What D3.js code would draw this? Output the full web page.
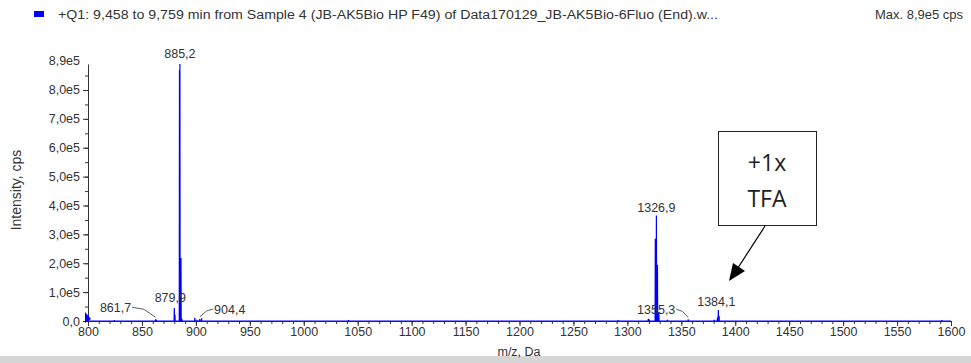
<!DOCTYPE html>
<html><head><meta charset="utf-8">
<script src="https://cdn.jsdelivr.net/npm/d3@7"></script>
<style>
body{margin:0;background:#fff;}
svg text{font-family:"Liberation Sans",Arial,sans-serif;}
</style></head>
<body><svg id="c" width="971" height="363"></svg>
<script>
// ---- data ----
const peakMz  = [824.5, 862.6, 863.4, 880.0, 880.6, 884.8, 885.2, 886.2, 887.0, 899.0, 901.0, 903.6, 905.3, 1041.5, 1291.5, 1319.4, 1320.4, 1325.9, 1326.9, 1327.9, 1329.2, 1337.0, 1356.4, 1380.5, 1383.5, 1384.3, 1385.0, 1591.5];
const peakInt = [3000, 6000, 3500, 45000, 22000, 868000, 890000, 218000, 8000, 11000, 4000, 7000, 9000, 3000, 3000, 8000, 5000, 285000, 365000, 195000, 30000, 4000, 6000, 4000, 12000, 38000, 18000, 3000];
const labelMz = [885.2, 879.9, 861.7, 904.4, 1326.9, 1355.3, 1384.1];
const xTicks = d3.range(800, 1601, 50);
const yTicks = d3.range(0, 800001, 100000);
const yMaxLabel = 890000;
const titleText = "+Q1: 9,458 to 9,759 min from Sample 4 (JB-AK5Bio HP F49) of Data170129_JB-AK5Bio-6Fluo (End).w...";
const maxText = "Max. 8,9e5 cps";
const annotationLines = ["+1x", "TFA"];

// ---- chart ----
const svg = d3.select("#c");
const x = d3.scaleLinear().domain([800, 1600]).range([88, 951]);
const y = d3.scaleLinear().domain([0, 890000]).range([321, 64]);
const fmt = v => v === 0 ? "0,0" : d3.format(".1e")(v).replace("e+", "e").replace(".", ",");
const fmtMz = v => d3.format(".1f")(v).replace(".", ",");
const FS = 12.5;

// title
svg.append("rect").attr("x", 34).attr("y", 11).attr("width", 10).attr("height", 6).attr("fill", "#0000ff");
svg.append("text").attr("x", 58).attr("y", 19).attr("font-size", 12).attr("fill", "#333")
  .attr("textLength", 660).attr("lengthAdjust", "spacingAndGlyphs").text(titleText);
svg.append("text").attr("x", 963).attr("y", 19).attr("font-size", 12).attr("fill", "#333").attr("text-anchor", "end")
  .attr("textLength", 88).attr("lengthAdjust", "spacingAndGlyphs").text(maxText);

// bottom gray band
svg.append("rect").attr("x", 0).attr("y", 356).attr("width", 971).attr("height", 7).attr("fill", "#d6d6d6");

// x axis
const xa = svg.append("g").attr("transform", "translate(0,321)");
xa.call(d3.axisBottom(x).tickValues(d3.range(800, 1601, 10)).tickSize(3).tickFormat(""));
xa.call(g => g.select(".domain").remove());
const xa2 = svg.append("g").attr("transform", "translate(0,321)");
xa2.call(d3.axisBottom(x).tickValues(xTicks).tickSize(5).tickSizeOuter(0).tickFormat(d3.format("d")).tickPadding(1));
xa2.selectAll("text").attr("font-size", FS).attr("fill", "#333").style("font-family", "Liberation Sans, Arial, sans-serif");
svg.selectAll(".tick line").attr("stroke", "#333");
xa2.select(".domain").attr("stroke", "#333");

// y axis
const ya = svg.append("g").attr("transform", "translate(88,0)");
ya.call(d3.axisLeft(y).tickValues(d3.range(0, 890000, 50000)).tickSize(3).tickFormat(""));
ya.call(g => g.select(".domain").remove());
const ya2 = svg.append("g").attr("transform", "translate(88,0)");
ya2.call(d3.axisLeft(y).tickValues(yTicks).tickSize(5).tickSizeOuter(0).tickFormat(fmt).tickPadding(3));
ya2.selectAll("text").attr("font-size", FS).attr("fill", "#333").style("font-family", "Liberation Sans, Arial, sans-serif");
ya2.select(".domain").attr("stroke", "#333");
ya.selectAll(".tick line").attr("stroke", "#333");
ya2.selectAll(".tick line").attr("stroke", "#333");
svg.append("text").attr("x", 80).attr("y", y(yMaxLabel) + 1).attr("text-anchor", "end")
  .attr("font-size", FS).attr("fill", "#333").text(fmt(yMaxLabel));

// axis titles
svg.append("text").attr("x", 519).attr("y", 356).attr("text-anchor", "middle").attr("font-size", FS).attr("fill", "#333").text("m/z, Da");
svg.append("text").attr("transform", "translate(21,190) rotate(-90)").attr("text-anchor", "middle").attr("font-size", 14).attr("fill", "#333").text("Intensity, cps");

// spectrum line
const pts = [[800, 0]];
peakMz.forEach((m, i) => { pts.push([m - 0.2, 0], [m, peakInt[i]], [m + 0.2, 0]); });
pts.push([1600, 0]);
svg.append("path").datum(pts)
  .attr("d", d3.line().x(d => x(d[0])).y(d => y(d[1])))
  .attr("fill", "none").attr("stroke", "#0000ff").attr("stroke-width", 1.2);

// origin marker
svg.append("path").attr("d", `M${x(800)-3},${y(0)-9} L${x(800)+3},${y(0)-2} L${x(800)-3},${y(0)+2} Z`).attr("fill", "#0000ff");

// peak labels
const lblOff = {
  "885.2": {dx: 0, dy: -6, lead: null},
  "879.9": {dx: -4, dy: -6, lead: null},
  "861.7": {dx: -40, dy: -7, lead: true},
  "904.4": {dx: 30, dy: -5, lead: true},
  "1326.9": {dx: 0, dy: -4, lead: null},
  "1355.3": {dx: -32, dy: -5, lead: true},
  "1384.1": {dx: -2, dy: -4, lead: null}
};
const peakTop = m => {
  let bi = 0;
  peakMz.forEach((p, i) => { if (Math.abs(p - m) < Math.abs(peakMz[bi] - m)) bi = i; });
  return [peakMz[bi], peakInt[bi]];
};
labelMz.forEach(m => {
  const o = lblOff[String(m)];
  const [pm, pi] = peakTop(m);
  const px = x(pm), py = y(pi);
  const tx = px + o.dx, ty = py + o.dy;
  const t = svg.append("text").attr("x", tx).attr("y", ty).attr("text-anchor", "middle")
    .attr("font-size", FS).attr("fill", "#333").text(fmtMz(m));
  if (o.lead) {
    const w = t.node().getComputedTextLength();
    const sx = o.dx < 0 ? tx + w / 2 + 1 : tx - w / 2 - 1;
    svg.append("path").attr("d", `M${sx},${ty - 5} L${(sx + px) / 2},${ty - 3} L${px},${py - 2}`)
      .attr("fill", "none").attr("stroke", "#333").attr("stroke-width", 0.8);
  }
});

// annotation box
svg.append("rect").attr("x", 718.5).attr("y", 131.5).attr("width", 98).attr("height", 94)
  .attr("fill", "#fff").attr("stroke", "#222").attr("stroke-width", 1);
annotationLines.forEach((s, i) => {
  svg.append("text").attr("x", 767).attr("y", 171 + i * 36).attr("text-anchor", "middle")
    .attr("font-size", 23).attr("fill", "#222").style("font-family", "'Open Sans','Noto Sans',sans-serif").text(s);
});
svg.append("line").attr("x1", 765).attr("y1", 226).attr("x2", 734).attr("y2", 274)
  .attr("stroke", "#000").attr("stroke-width", 1.2);
svg.append("path").attr("d", "M729,281 L733,263 L745,271 Z").attr("fill", "#000");
</script></body></html>
